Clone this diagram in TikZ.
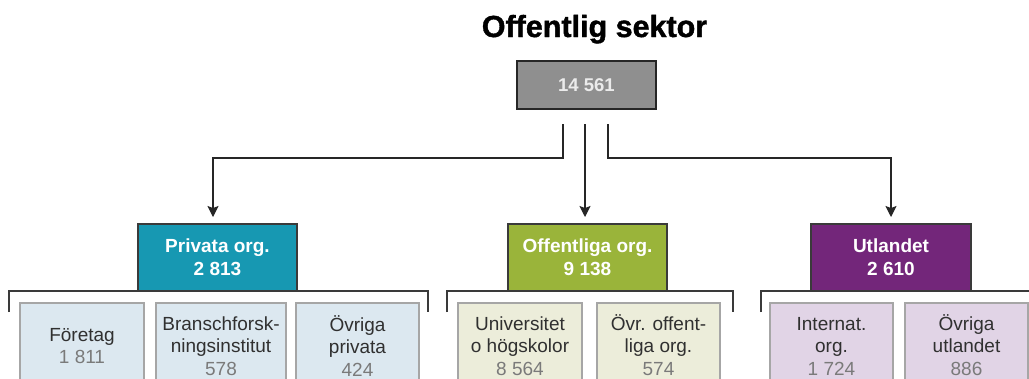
\documentclass[tikz,border=0pt]{standalone}
\usepackage{fontspec}
\setmainfont{Liberation Sans}
\newfontfamily\heavyfont{Liberation Sans Bold}[FakeBold=1.3]
\usetikzlibrary{arrows.meta}
\definecolor{cteal}{HTML}{1798B2}
\definecolor{colive}{HTML}{9AB43A}
\definecolor{cpurple}{HTML}{73267A}
\definecolor{lteal}{HTML}{DCE8F0}
\definecolor{lolive}{HTML}{ECEDDA}
\definecolor{lpurple}{HTML}{E1D4E6}
\definecolor{cgray}{HTML}{8F8F8F}
\definecolor{subborder}{HTML}{A6A6A6}
\definecolor{labtext}{HTML}{303030}
\definecolor{numtext}{HTML}{7A7A7A}
\definecolor{linecol}{HTML}{3A3A3A}
\tikzset{
  mainbox/.style={draw=linecol, line width=1.4pt, minimum width=159pt, minimum height=67pt,
    inner sep=0pt, text=white, align=center,
    font=\fontsize{19}{23}\selectfont\bfseries},
  subbox/.style={draw=subborder, line width=1.2pt, minimum height=97pt, inner sep=0pt},
  subtext/.style={anchor=north, inner sep=0pt, align=center, text=labtext,
    font=\fontsize{19}{22.5}\selectfont},
  conn/.style={draw=black!85, line width=1.1pt, -{Stealth[length=11pt,width=11pt,inset=2pt]}},
  bracket/.style={draw=linecol, line width=1.5pt},
}
\newcommand{\nm}[1]{\textcolor{numtext}{#1}}
\newcommand{\fs}{\rule{0pt}{18pt}}
\begin{document}
\begin{tikzpicture}[x=1pt,y=-1pt]
\path[use as bounding box, clip] (0,0) rectangle (1029,378);
\fill[white] (0,0) rectangle (1029,378);

% title
\node[anchor=base, inner sep=0pt, font=\fontsize{30.5}{34}\heavyfont] (title) at (594.5,37) {Offentlig sektor};

% top box
\node[draw=black!85, line width=1.4pt, fill=cgray, minimum width=139pt, minimum height=48pt,
  inner sep=0pt, text=white!92!black, font=\fontsize{18.5}{22}\selectfont\bfseries] (top) at (586.5,85) {14 561};

% main boxes
\node[mainbox, fill=cteal] (priv) at (217.5,257.5) {Privata org.\\2 813};
\node[mainbox, fill=colive] (off) at (587.5,257.5) {Offentliga org.\\9 138};
\node[mainbox, fill=cpurple, minimum width=160pt] (utl) at (891,257.5) {Utlandet\\2 610};

% connectors
\coordinate (sL) at (563,124);
\coordinate (sM) at (585,124);
\coordinate (sR) at (608,124);
\coordinate (eL) at (213,217);
\coordinate (eM) at (585,217);
\coordinate (eR) at (891,217);
\draw[conn] (sL) |- (213,158) -- (eL);
\draw[conn] (sM) -- (eM);
\draw[conn] (sR) |- (891,158) -- (eR);

% brackets
\draw[bracket] (9,312) -- (9,291) -- (428,291) -- (428,312);
\draw[bracket] (447,312) -- (447,291) -- (733,291) -- (733,312);
\draw[bracket] (761,312) -- (761,291) -- (1040,291);

% sub boxes
\node[subbox, fill=lteal, minimum width=124pt] (b1) at (82,351.5) {};
\node[subbox, fill=lteal, minimum width=130pt] (b2) at (221,351.5) {};
\node[subbox, fill=lteal, minimum width=123pt] (b3) at (357.5,351.5) {};
\node[subbox, fill=lolive, minimum width=124pt] (b4) at (520,351.5) {};
\node[subbox, fill=lolive, minimum width=123pt] (b5) at (658.5,351.5) {};
\node[subbox, fill=lpurple, minimum width=123pt] (b6) at (831.5,351.5) {};
\node[subbox, fill=lpurple, minimum width=123pt] (b7) at (966.5,351.5) {};

\node[subtext] (t1) at (82,323) {\fs Företag\\\nm{1 811}};
\node[subtext] (t2) at (221,312) {\fs Branschforsk-\\ningsinstitut\\\nm{578}};
\node[subtext] (t3) at (357.5,313) {\fs Övriga\\privata\\\nm{424}};
\node[subtext] (t4) at (520,312) {\fs Universitet\\o högskolor\\\nm{8 564}};
\node[subtext] (t5) at (658.5,312) {\fs Övr. offent-\\liga org.\\\nm{574}};
\node[subtext] (t6) at (831.5,312) {\fs Internat.\\org.\\\nm{1 724}};
\node[subtext] (t7) at (966.5,312) {\fs Övriga\\utlandet\\\nm{886}};
\end{tikzpicture}
\end{document}
